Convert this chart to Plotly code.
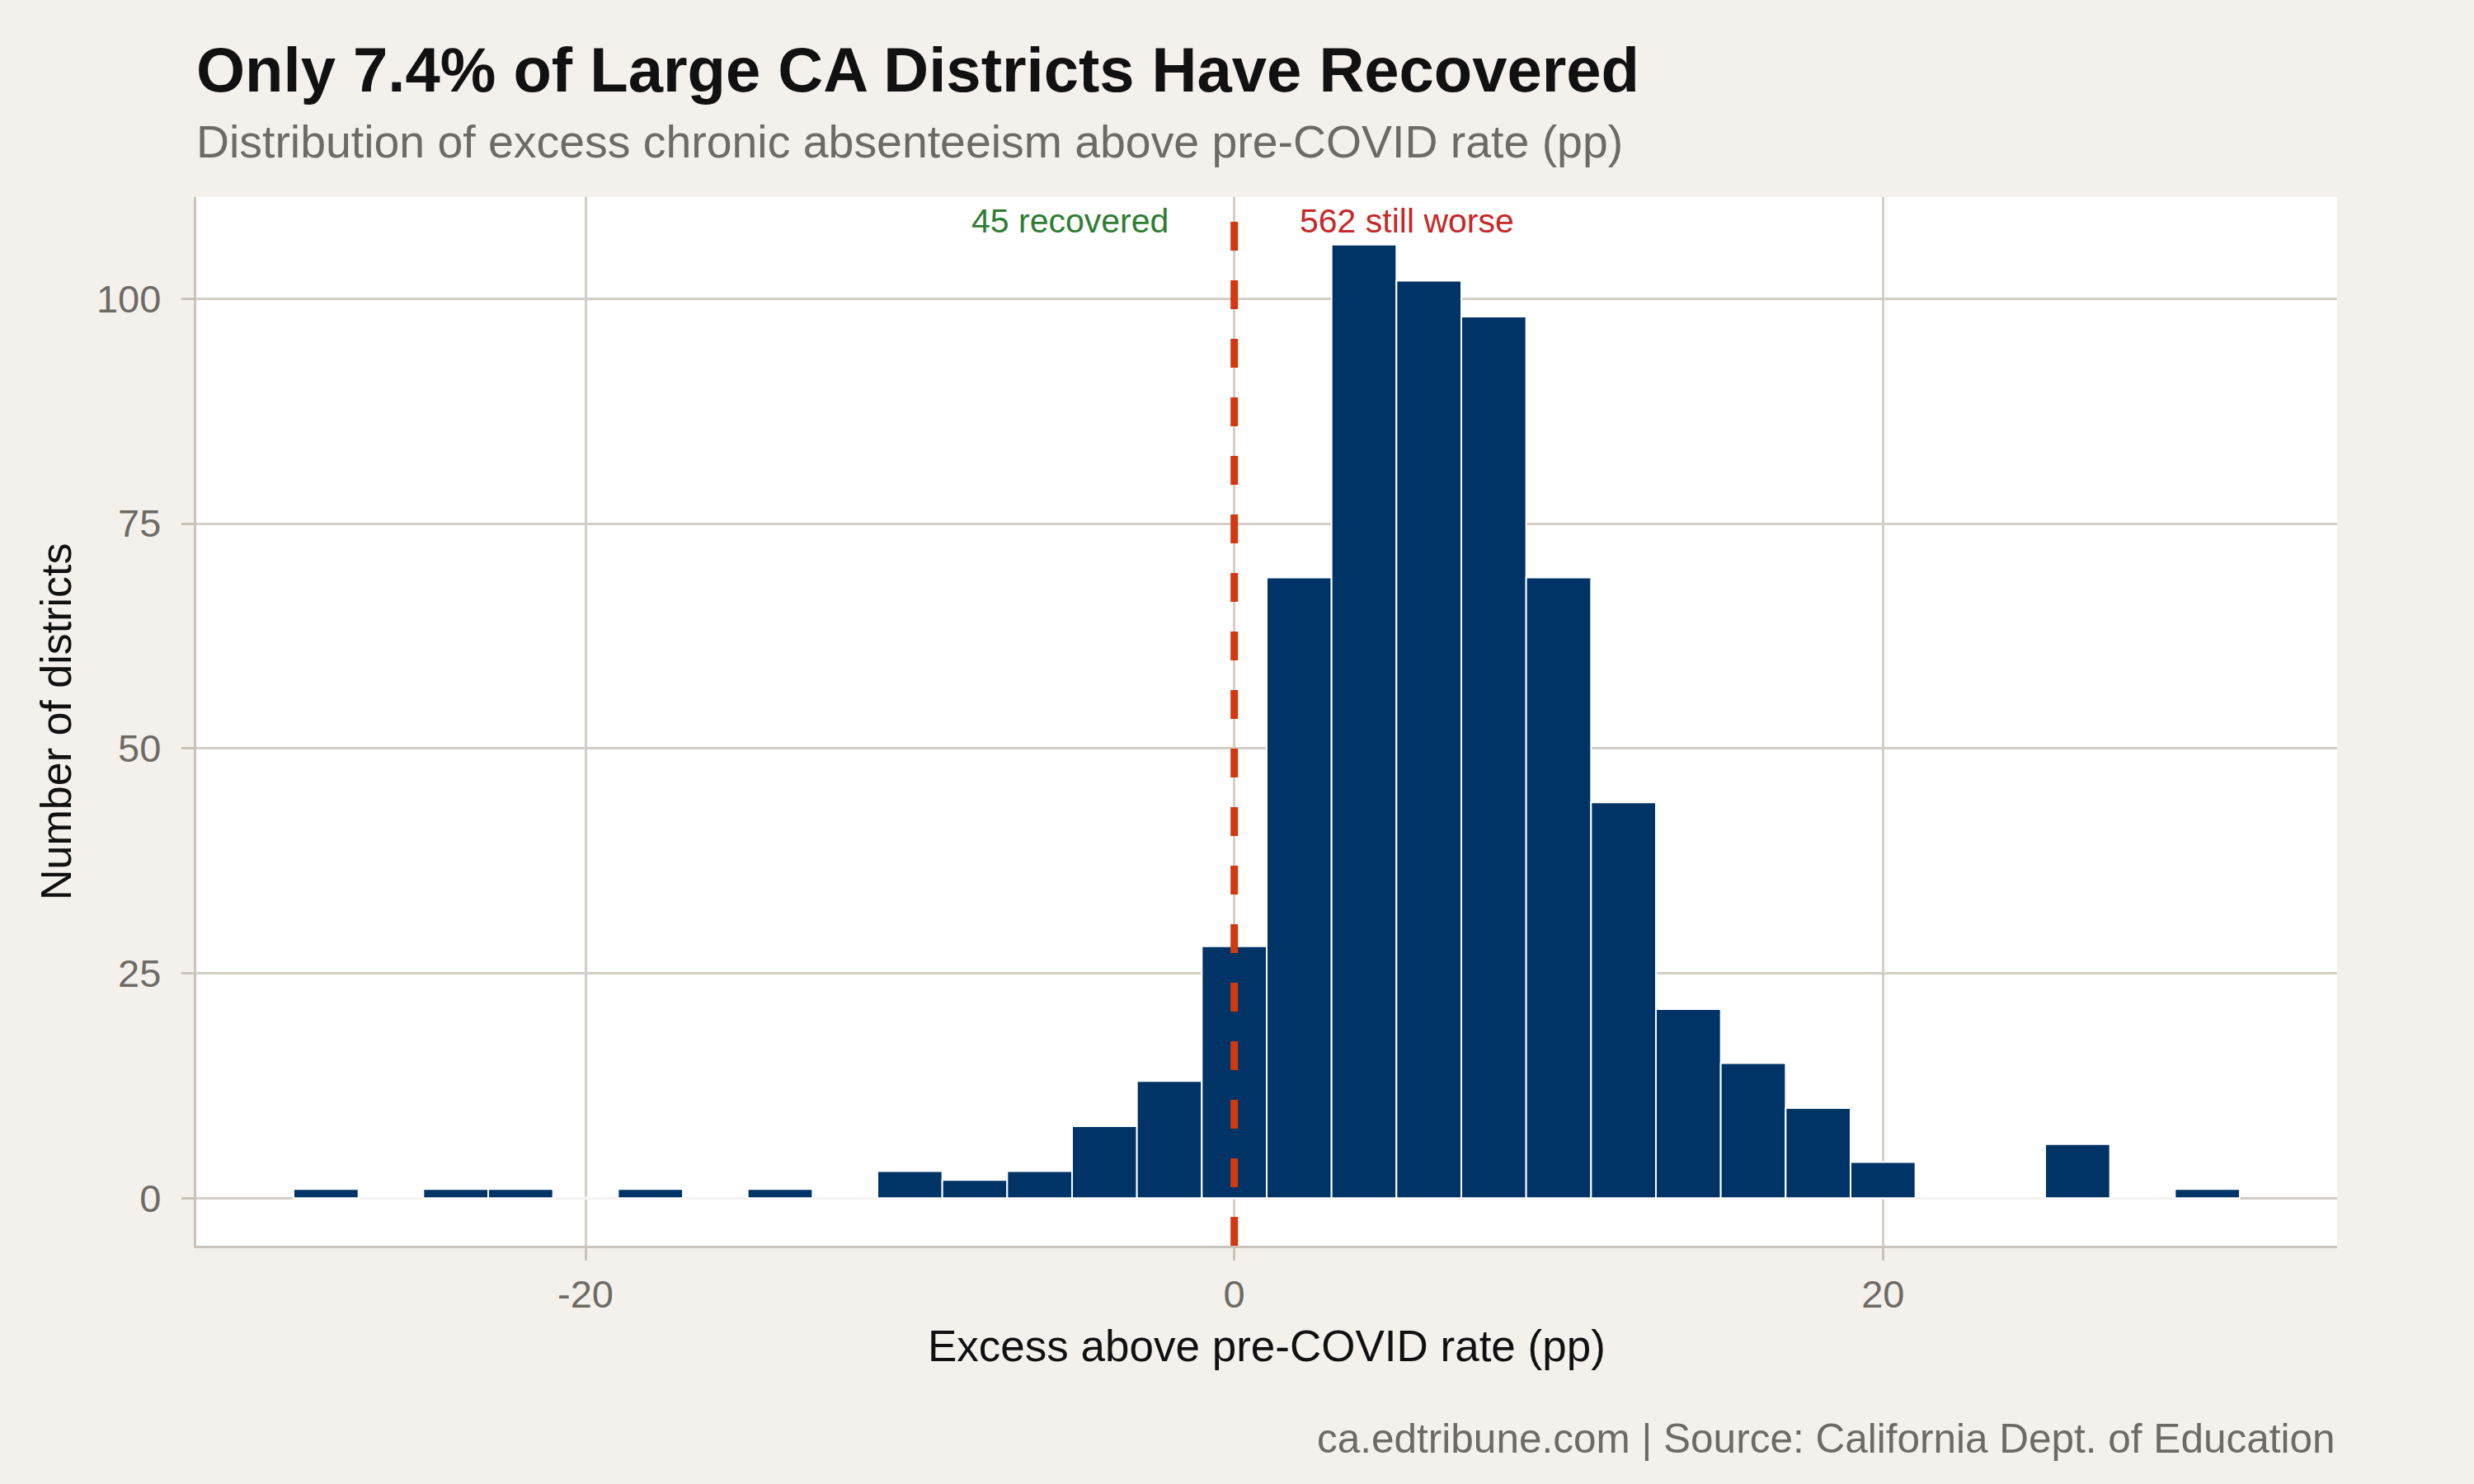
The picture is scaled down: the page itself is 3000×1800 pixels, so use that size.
import plotly.graph_objects as go

# histogram of excess chronic absenteeism (pp above pre-COVID), 2pp bins
bin_centers = [-28, -24, -22, -18, -14, -10, -8, -6, -4, -2, 0, 2, 4, 6, 8, 10,
               12, 14, 16, 18, 20, 26, 30]
district_counts = [1, 1, 1, 1, 1, 3, 2, 3, 8, 13, 28, 69, 106, 102, 98, 69,
                   44, 21, 15, 10, 4, 6, 1]
bin_width = 2

x_ticks = [-20, 0, 20]
y_ticks = [0, 25, 50, 75, 100]

n_recovered = 45
n_worse = 562

FONT = "Liberation Sans, Arial, Helvetica, sans-serif"
BG = "#f4f1ec"
GRID = "#d3cec6"
AXIS = "#c9c3b9"
MUTED = "#6e6a64"
NAVY = "#003366"

fig = go.Figure()

fig.add_trace(go.Bar(
    x=bin_centers,
    y=district_counts,
    width=bin_width,
    marker=dict(color=NAVY, line=dict(color="white", width=2)),
    hoverinfo="skip",
    showlegend=False,
))

# zero-count bins cover the baseline grid line with white outlines
lo = min(bin_centers) - bin_width / 2
hi = max(bin_centers) + bin_width / 2
fig.add_shape(type="line", xref="x", yref="y", x0=lo, x1=hi, y0=0, y1=0,
              line=dict(color="white", width=3), layer="between")
fig.add_shape(type="line", xref="x", yref="y", x0=lo, x1=hi, y0=0, y1=0,
              line=dict(color="#ececec", width=1), layer="between")

# pre-COVID reference line
fig.add_shape(type="line", xref="x", yref="paper", x0=0, x1=0, y0=0, y1=1,
              line=dict(color="#d4390e", width=9, dash="35px,36px"), layer="above")

label_y = 108.6
fig.add_annotation(x=-2, y=label_y, xref="x", yref="y", text=f"{n_recovered} recovered",
                   showarrow=False, xanchor="right", yanchor="middle", borderpad=0,
                   font=dict(family=FONT, size=41, color="#2e7d32"))
fig.add_annotation(x=2, y=label_y, xref="x", yref="y", text=f"{n_worse} still worse",
                   showarrow=False, xanchor="left", yanchor="middle", borderpad=0,
                   font=dict(family=FONT, size=41, color="#c62828"))

# title, subtitle, caption, axis titles
fig.add_annotation(x=0, y=1.1211, xref="paper", yref="paper", xanchor="left", yanchor="middle",
                   xshift=-2, text="Only 7.4% of Large CA Districts Have Recovered", showarrow=False,
                   font=dict(family=FONT, size=76, color="#111111", weight=700))
fig.add_annotation(x=0, y=1.0523, xref="paper", yref="paper", xanchor="left", yanchor="middle",
                   xshift=-2, text="Distribution of excess chronic absenteeism above pre-COVID rate (pp)",
                   showarrow=False, font=dict(family=FONT, size=55.4, color=MUTED))
fig.add_annotation(x=1, y=-0.1835, xref="paper", yref="paper", xanchor="right", yanchor="middle",
                   text="ca.edtribune.com | Source: California Dept. of Education",
                   showarrow=False, font=dict(family=FONT, size=49.5, color=MUTED))
fig.add_annotation(x=0.5, y=-0.0954, xref="paper", yref="paper", xanchor="center", yanchor="middle",
                   text="Excess above pre-COVID rate (pp)", showarrow=False,
                   font=dict(family=FONT, size=53, color="#111111"))
fig.add_annotation(x=-0.0655, y=0.5, xref="paper", yref="paper", xanchor="center", yanchor="middle",
                   text="Number of districts", textangle=-90, showarrow=False,
                   font=dict(family=FONT, size=52, color="#111111"))

fig.update_xaxes(
    range=[-32, 34], tickvals=x_ticks, ticktext=[str(v) for v in x_ticks],
    showgrid=True, gridcolor=GRID, gridwidth=2.6,
    zeroline=False, showline=True, linecolor=AXIS, linewidth=3.4,
    ticks="outside", ticklen=15, tickwidth=2.6, tickcolor=AXIS, ticklabelstandoff=0,
    tickfont=dict(family=FONT, size=47, color=MUTED),
)
fig.update_yaxes(
    range=[-5.3, 111.3], tickvals=y_ticks, ticktext=[str(v) for v in y_ticks],
    showgrid=True, gridcolor=GRID, gridwidth=2.6,
    zeroline=False, showline=True, linecolor=AXIS, linewidth=3.4,
    ticks="outside", ticklen=15, tickwidth=2.6, tickcolor=AXIS, ticklabelstandoff=15,
    tickfont=dict(family=FONT, size=47, color=MUTED),
)

fig.update_layout(
    width=3000, height=1800,
    margin=dict(l=238, r=166, t=239, b=289, autoexpand=False),
    paper_bgcolor=BG, plot_bgcolor="white",
    font=dict(family=FONT),
    showlegend=False,
)

fig.write_html("out.html", config={"displayModeBar": False},
               post_script="document.body.style.margin='0';")
